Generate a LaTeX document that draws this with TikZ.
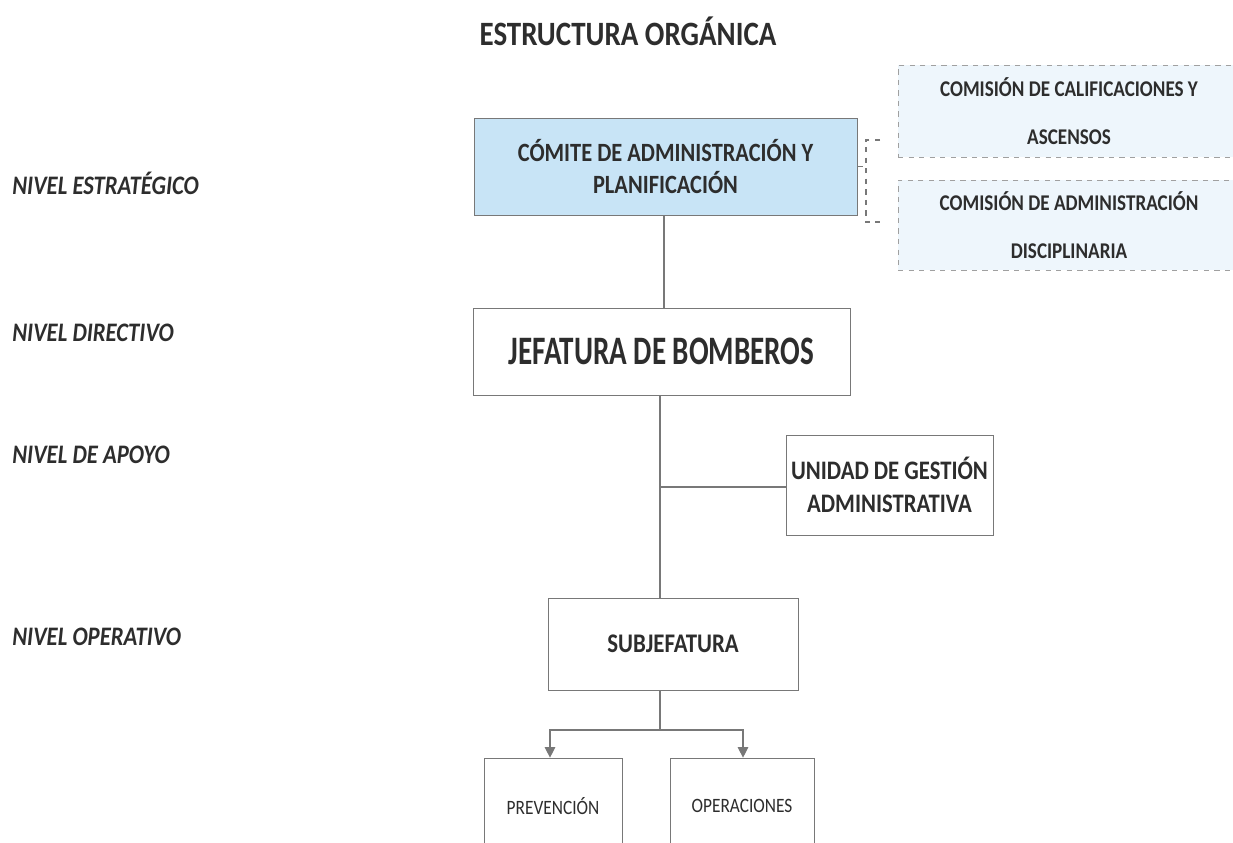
\documentclass[tikz,border=0pt]{standalone}
\usepackage{fontspec}
\setmainfont[FakeStretch=0.85]{Carlito}
\newfontfamily\estrecha[FakeStretch=0.72]{Carlito}
\usetikzlibrary{positioning,calc,arrows.meta}
\definecolor{cajaazul}{RGB}{200,228,246}
\definecolor{comazul}{RGB}{238,246,252}
\definecolor{linea}{RGB}{120,120,120}
\definecolor{texto}{RGB}{45,45,45}

\begin{document}
\begin{tikzpicture}[x=0.02cm,y=-0.02cm,
    caja/.style={draw=linea, fill=white, align=center, text=texto, font=\bfseries, inner sep=0pt},
    comision/.style={caja, draw=linea!70, dashed, fill=comazul, font=\bfseries\fontsize{12.8}{27}\selectfont},
    nivel/.style={anchor=west, text=texto, inner sep=0pt, font=\bfseries\itshape\fontsize{15.2}{18}\selectfont},
    conector/.style={draw=linea, line width=0.6pt}]
  \clip (0,0) rectangle (1233,842);
  \fill[white] (0,0) rectangle (1233,842);

  \node[text=texto, font=\bfseries\fontsize{19.4}{23}\selectfont] (titulo) at (628,31) {ESTRUCTURA ORGÁNICA};

  \node[nivel] (estrategico) at (12,183) {NIVEL ESTRATÉGICO};
  \node[nivel] (directivo)   at (12,333) {NIVEL DIRECTIVO};
  \node[nivel] (apoyo)       at (12,455) {NIVEL DE APOYO};
  \node[nivel] (operativo)   at (12,637) {NIVEL OPERATIVO};

  \node[caja, fill=cajaazul, minimum width=7.66cm, minimum height=1.94cm,
        font=\bfseries\fontsize{15}{18}\selectfont] (comite) at (665.5,166.5)
        {CÓMITE DE ADMINISTRACIÓN Y\\PLANIFICACIÓN};
  \node[caja, minimum width=7.54cm, minimum height=1.74cm,
        font=\estrecha\bfseries\fontsize{23}{26}\selectfont] (jefatura) at (661.5,351.5)
        {JEFATURA DE BOMBEROS};
  \node[caja, minimum width=4.14cm, minimum height=2cm,
        font=\bfseries\fontsize{15.2}{19}\selectfont] (unidad) at (889.5,485)
        {UNIDAD DE GESTIÓN\\ADMINISTRATIVA};
  \node[caja, minimum width=5cm, minimum height=1.84cm,
        font=\bfseries\fontsize{15.3}{18}\selectfont] (subjefatura) at (673,644)
        {SUBJEFATURA};
  \node[caja, minimum width=2.76cm, minimum height=1.92cm,
        font=\fontsize{11.6}{14}\selectfont] (prevencion) at (553,806) {PREVENCIÓN};
  \node[caja, minimum width=2.88cm, minimum height=1.92cm,
        font=\fontsize{11.6}{14}\selectfont] (operaciones) at (742,806) {OPERACIONES};

  \node[comision, minimum width=6.84cm, minimum height=1.84cm] (calificaciones) at (1069,111)
        {COMISIÓN DE CALIFICACIONES Y\\ASCENSOS};
  \node[comision, minimum width=6.84cm, minimum height=1.8cm] (disciplinaria) at (1069,225)
        {COMISIÓN DE ADMINISTRACIÓN\\DISCIPLINARIA};

  % lineas del organigrama
  \coordinate (bifurca) at (660,487);
  \coordinate (reparte) at (660,730);
  \draw[conector] (comite.south -| 664,0) -- (jefatura.north -| 664,0);
  \draw[conector] (jefatura.south -| bifurca) -- (subjefatura.north -| bifurca);
  \draw[conector] (bifurca) -- (unidad.west |- bifurca);
  \draw[conector] (subjefatura.south -| reparte) -- (reparte);
  \draw[conector, -{Triangle[length=6pt,width=6pt]}] (reparte) -| (prevencion.north -| 550,0);
  \draw[conector, -{Triangle[length=6pt,width=6pt]}] (reparte) -| (operaciones.north -| 743,0);

  % corchete de las comisiones
  \draw[conector, dashed] (comite.east) -- ++(9,0);
  \draw[conector, dashed] (880,140) -- (866,140) -- (866,222) -- (880,222);
\end{tikzpicture}
\end{document}
